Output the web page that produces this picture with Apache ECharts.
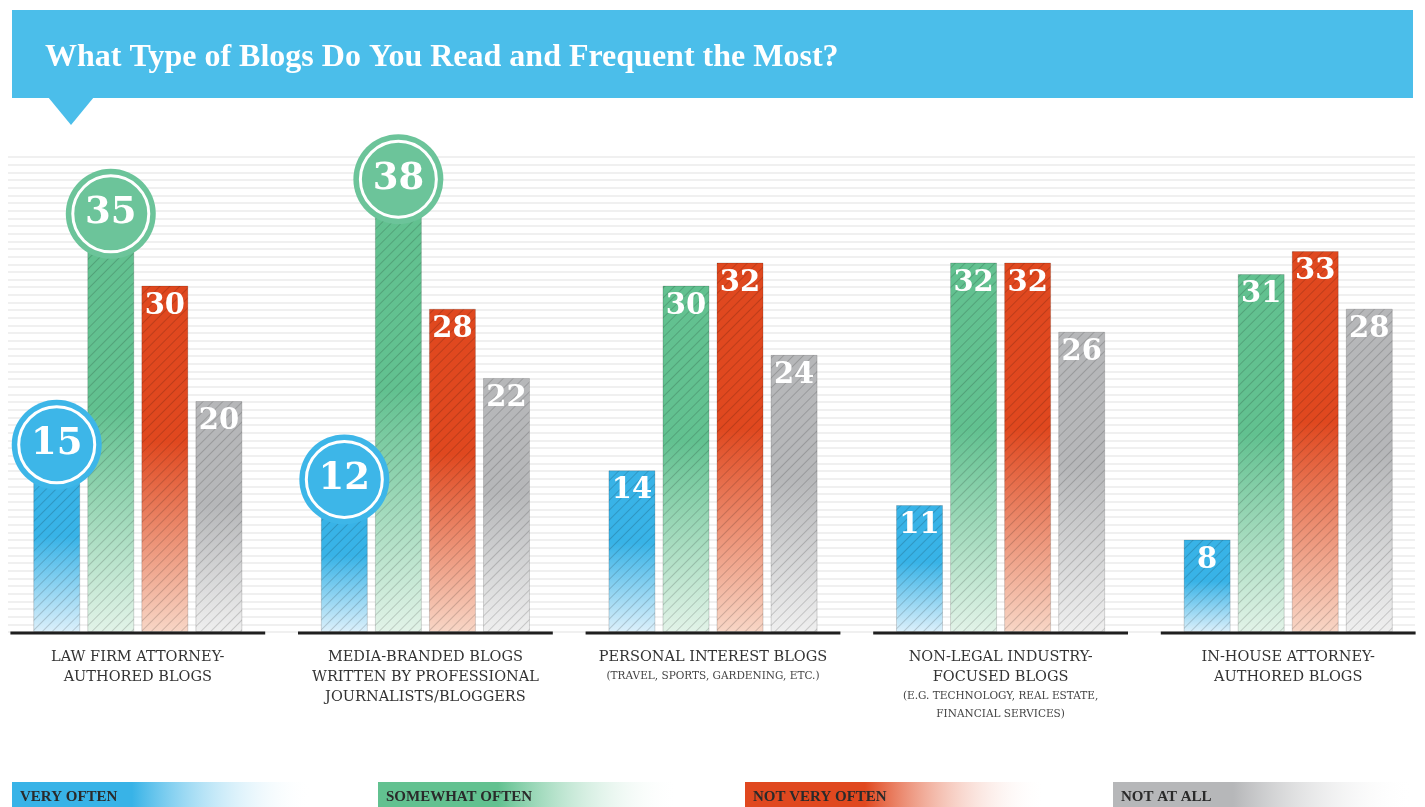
<!DOCTYPE html>
<html>
<head>
<meta charset="utf-8">
<script src="https://cdn.jsdelivr.net/npm/echarts@6/dist/echarts.min.js"></script>
<style>
  html, body { margin: 0; padding: 0; background: #ffffff; }
  #chart { width: 1425px; height: 807px; }
</style>
</head>
<body>
<div id="chart"></div>
<script>
// ---------- data ----------
const titleText = 'What Type of Blogs Do You Read and Frequent the Most?';
const categoryMain = [
  'LAW FIRM ATTORNEY-\nAUTHORED BLOGS',
  'MEDIA-BRANDED BLOGS\nWRITTEN BY PROFESSIONAL\nJOURNALISTS/BLOGGERS',
  'PERSONAL INTEREST BLOGS',
  'NON-LEGAL INDUSTRY-\nFOCUSED BLOGS',
  'IN-HOUSE ATTORNEY-\nAUTHORED BLOGS'
];
const categorySub = [
  '',
  '',
  '(TRAVEL, SPORTS, GARDENING, ETC.)',
  '(E.G. TECHNOLOGY, REAL ESTATE,\nFINANCIAL SERVICES)',
  ''
];
const seriesNames = ['VERY OFTEN', 'SOMEWHAT OFTEN', 'NOT VERY OFTEN', 'NOT AT ALL'];
const veryOften     = [15, 12, 14, 11, 8];
const somewhatOften = [35, 38, 30, 32, 31];
const notVeryOften  = [30, 28, 32, 32, 33];
const notAtAll      = [20, 22, 24, 26, 28];
// categories whose values are shown in a circle badge, per series
const circledVeryOften = [0, 1];
const circledSomewhatOften = [0, 1];
const circledNotVeryOften = [];
const circledNotAtAll = [];

// ---------- styles ----------
const palette = [
  { top: '#38b3e7', bottom: '#dcf0fb', badge: '#3db6e8' },
  { top: '#62c190', bottom: '#e2f3e8', badge: '#6cc49a' },
  { top: '#e0481f', bottom: '#f8d6c6', badge: '#e0481f' },
  { top: '#b6b7b9', bottom: '#efefef', badge: '#b6b7b9' }
];
const serif = 'DejaVu Serif';

const hatch = {
  symbol: 'rect',
  symbolSize: 1,
  color: 'rgba(0,0,0,0.16)',
  dashArrayX: [1, 0],
  dashArrayY: [1, 5.5],
  rotation: -Math.PI / 4
};

function barGradient(p) {
  return new echarts.graphic.LinearGradient(0, 0, 0, 1, [
    { offset: 0, color: p.top },
    { offset: 0.45, color: p.top },
    { offset: 1, color: p.bottom }
  ]);
}

function badgeLabel(p) {
  return {
    show: true,
    position: 'top',
    distance: 0,
    offset: [0, 31],
    formatter: '{c|{c}}',
    backgroundColor: p.badge,
    borderRadius: 46,
    padding: 7,
    rich: {
      c: {
        width: 76,
        height: 76,
        lineHeight: 76,
        align: 'center',
        verticalAlign: 'middle',
        borderRadius: 40,
        borderColor: '#ffffff',
        borderWidth: 3,
        color: '#ffffff',
        fontFamily: serif,
        fontWeight: 'bold',
        fontSize: 37
      }
    }
  };
}

function makeBar(name, values, circled, p) {
  return {
    name: name,
    type: 'bar',
    barWidth: 47,
    barGap: '15%',
    z: 2,
    itemStyle: {
      color: barGradient(p),
      borderColor: 'rgba(0,0,0,0.08)',
      borderWidth: 1,
      decal: hatch
    },
    label: {
      show: true,
      position: 'insideTop',
      distance: 6,
      color: '#ffffff',
      fontFamily: serif,
      fontWeight: 'bold',
      fontSize: 29
    },
    data: values.map((v, i) => circled.indexOf(i) >= 0
      ? { value: v, label: badgeLabel(p) }
      : v)
  };
}

const chart = echarts.init(document.getElementById('chart'), null, { renderer: 'canvas' });

const legendX = [12, 378, 745, 1113];
const legendGraphics = [];
seriesNames.forEach((n, i) => {
  legendGraphics.push({
    type: 'rect',
    left: legendX[i], top: 782,
    shape: { width: 300, height: 25 },
    style: {
      fill: new echarts.graphic.LinearGradient(0, 0, 1, 0, [
        { offset: 0, color: palette[i].top },
        { offset: 0.4, color: palette[i].top },
        { offset: 1, color: 'rgba(255,255,255,0)' }
      ])
    },
    z: 1
  });
  legendGraphics.push({
    type: 'text',
    left: legendX[i] + 8, top: 790,
    style: {
      text: n,
      fill: '#2a2a2a',
      font: 'bold 15px "Liberation Serif"'
    },
    z: 2
  });
});

const option = {
  backgroundColor: '#ffffff',
  animation: false,
  title: {
    text: titleText,
    left: 40,
    top: 37,
    textStyle: {
      color: '#ffffff',
      fontFamily: 'Liberation Serif',
      fontWeight: 'bold',
      fontSize: 32
    },
    z: 10
  },
  graphic: [
    {
      type: 'rect', left: 12, top: 10,
      shape: { width: 1401, height: 88 },
      style: { fill: '#4bbeea' }, z: 1
    },
    {
      type: 'polygon', left: 48, top: 97,
      shape: { points: [[0, 0], [46, 0], [23, 28]] },
      style: { fill: '#4bbeea' }, z: 1
    }
  ].concat(legendGraphics),
  grid: [
    { left: -6, right: -7, top: 147, bottom: 175, outerBoundsMode: 'none', containLabel: false },
    { left: 8, right: 10, top: 157, bottom: 175, outerBoundsMode: 'none', containLabel: false }
  ],
  xAxis: [
    {
      type: 'category',
      gridIndex: 0,
      data: categoryMain,
      axisLine: { show: false },
      axisTick: { show: false },
      axisLabel: {
        interval: 0,
        margin: 15,
        formatter: function (val, idx) {
          const main = val.split('\n').map(l => '{m|' + l + '}');
          const sub = categorySub[idx] ? categorySub[idx].split('\n').map(l => '{s|' + l + '}') : [];
          return main.concat(sub).join('\n');
        },
        rich: {
          m: { fontFamily: serif, fontSize: 14.5, color: '#333333', lineHeight: 20, align: 'center' },
          s: { fontFamily: serif, fontSize: 10.5, color: '#444444', lineHeight: 18, align: 'center' }
        }
      }
    },
    {
      type: 'value', gridIndex: 1, min: 0, max: 1, show: false
    }
  ],
  yAxis: [
    {
      type: 'value', gridIndex: 0, min: 0, max: 42,
      show: false, splitLine: { show: false }
    },
    {
      type: 'value', gridIndex: 1, min: 0, max: 62, interval: 1,
      axisLine: { show: false }, axisTick: { show: false }, axisLabel: { show: false },
      splitLine: { show: true, lineStyle: { color: '#ebebeb', width: 1.5 } }
    }
  ],
  series: [
    makeBar(seriesNames[0], veryOften, circledVeryOften, palette[0]),
    makeBar(seriesNames[1], somewhatOften, circledSomewhatOften, palette[1]),
    makeBar(seriesNames[2], notVeryOften, circledNotVeryOften, palette[2]),
    makeBar(seriesNames[3], notAtAll, circledNotAtAll, palette[3]),
    {
      type: 'custom',
      name: 'baseline',
      xAxisIndex: 0, yAxisIndex: 0,
      z: 3,
      silent: true,
      data: categoryMain.map((c, i) => [i, 0]),
      renderItem: function (params, api) {
        const p = api.coord([api.value(0), 0]);
        const half = api.size([1, 0])[0] * 0.443;
        return {
          type: 'line',
          shape: { x1: p[0] - half, y1: p[1] + 1, x2: p[0] + half, y2: p[1] + 1 },
          style: { stroke: '#1f1f1f', lineWidth: 3 }
        };
      }
    }
  ]
};

chart.setOption(option);
</script>
</body>
</html>
